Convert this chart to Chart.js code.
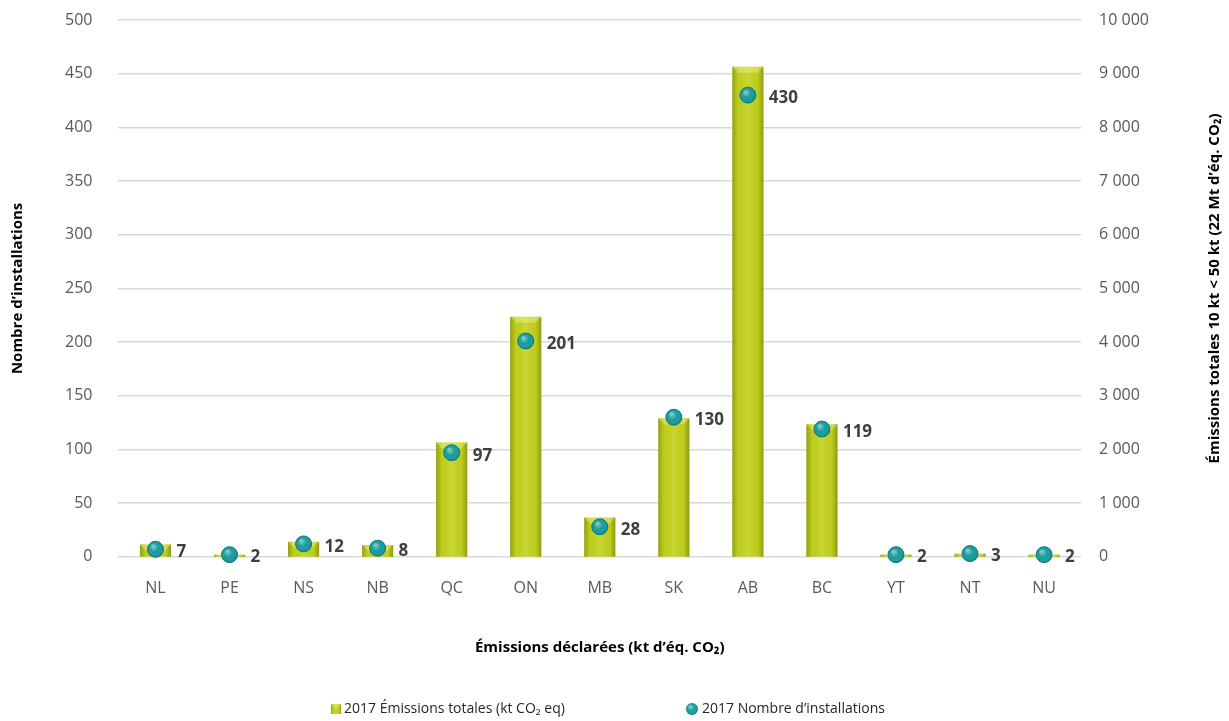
<!DOCTYPE html>
<html>
<head>
<meta charset="utf-8">
<script src="https://cdn.jsdelivr.net/npm/chart.js@4/dist/chart.umd.min.js"></script>
<style>
  html, body { margin: 0; padding: 0; background: #fff; }
  #wrap { width: 1229px; height: 721px; }
</style>
</head>
<body>
<div id="wrap"><canvas id="chart" width="1229" height="721"></canvas></div>
<script>
const provinces = ['NL', 'PE', 'NS', 'NB', 'QC', 'ON', 'MB', 'SK', 'AB', 'BC', 'YT', 'NT', 'NU'];
// kt CO2 eq, right axis
const emissions = [230, 40, 280, 220, 2130, 4470, 730, 2580, 9130, 2470, 40, 60, 40];
// number of facilities, left axis
const installations = [7, 2, 12, 8, 97, 201, 28, 130, 430, 119, 2, 3, 2];
const leftTicks = [0, 50, 100, 150, 200, 250, 300, 350, 400, 450, 500];
const rightTicks = [0, 1000, 2000, 3000, 4000, 5000, 6000, 7000, 8000, 9000, 10000];

const FONT = '"Open Sans", "Liberation Sans", sans-serif';
const barColor = '#c3d21f';
const dotColor = '#149a9c';

function shadeBar(ctx, x0, y, w, h) {
  const g = ctx.createLinearGradient(x0, 0, x0 + w, 0);
  g.addColorStop(0, 'rgba(90,100,0,0.45)');
  g.addColorStop(0.18, 'rgba(90,100,0,0.05)');
  g.addColorStop(0.5, 'rgba(255,255,200,0.12)');
  g.addColorStop(0.82, 'rgba(90,100,0,0.05)');
  g.addColorStop(1, 'rgba(90,100,0,0.5)');
  ctx.fillStyle = g;
  ctx.fillRect(x0, y, w, h);
  const t = Math.min(6, h / 2);
  ctx.fillStyle = 'rgba(255,255,180,0.35)';
  ctx.beginPath();
  ctx.moveTo(x0, y);
  ctx.lineTo(x0 + w, y);
  ctx.lineTo(x0 + w - t, y + t);
  ctx.lineTo(x0 + t, y + t);
  ctx.closePath();
  ctx.fill();
}

function shadeDot(ctx, x, y, r) {
  const g = ctx.createRadialGradient(x - r * 0.3, y - r * 0.4, 1, x, y, r);
  g.addColorStop(0, 'rgba(255,255,255,0.45)');
  g.addColorStop(0.5, 'rgba(255,255,255,0)');
  g.addColorStop(1, 'rgba(0,60,60,0.25)');
  ctx.fillStyle = g;
  ctx.beginPath();
  ctx.arc(x, y, r, 0, Math.PI * 2);
  ctx.fill();
}

// keep the tick padding from pushing the plot down
const trimPadding = axis => {
  axis.paddingTop = 20;
  axis.paddingBottom = 10;
};

// shading on bars and dots, value labels, right title and legend
const decorate = {
  id: 'decorate',
  afterDatasetDraw(chart, args) {
    const ctx = chart.ctx;
    ctx.save();
    if (args.index === 0) {
      args.meta.data.forEach(bar => {
        const h = bar.base - bar.y;
        if (h > 0) shadeBar(ctx, bar.x - bar.width / 2, bar.y, bar.width, h);
      });
    }
    if (args.index === 1) {
      ctx.font = 'bold 17px ' + FONT;
      ctx.textBaseline = 'middle';
      ctx.textAlign = 'left';
      args.meta.data.forEach((pt, i) => {
        shadeDot(ctx, pt.x, pt.y, 8);
        ctx.fillStyle = '#3f3f3f';
        ctx.fillText(String(installations[i]), pt.x + 21, pt.y + 3);
      });
    }
    ctx.restore();
  },
  afterDraw(chart) {
    const ctx = chart.ctx;
    const area = chart.chartArea;
    ctx.save();
    ctx.font = 'bold 15px ' + FONT;
    ctx.fillStyle = '#000';
    ctx.textAlign = 'center';
    ctx.textBaseline = 'middle';
    ctx.translate(1215, (area.top + area.bottom) / 2);
    ctx.rotate(-Math.PI / 2);
    ctx.fillText('Émissions totales 10 kt < 50 kt (22 Mt d\u2019éq. CO\u2082)', 0, 0);
    ctx.restore();

    // legend
    const ds = chart.data.datasets;
    ctx.save();
    ctx.font = '14px ' + FONT;
    ctx.textBaseline = 'middle';
    ctx.textAlign = 'left';
    const ly = 709;
    ctx.fillStyle = ds[0].backgroundColor;
    ctx.fillRect(331, ly - 5, 10, 10);
    shadeBar(ctx, 331, ly - 5, 10, 10);
    ctx.fillStyle = '#262626';
    ctx.fillText(ds[0].label, 344, ly);
    ctx.fillStyle = ds[1].pointBackgroundColor;
    ctx.beginPath();
    ctx.arc(692, ly, 6, 0, Math.PI * 2);
    ctx.fill();
    shadeDot(ctx, 692, ly, 6);
    ctx.fillStyle = '#262626';
    ctx.fillText(ds[1].label, 702, ly);
    ctx.restore();
  }
};

const ctx = document.getElementById('chart').getContext('2d');
new Chart(ctx, {
  data: {
    labels: provinces,
    datasets: [
      {
        type: 'bar',
        label: '2017 Émissions totales (kt CO\u2082 eq)',
        data: emissions,
        yAxisID: 'yR',
        backgroundColor: barColor,
        borderWidth: 0,
        barPercentage: 0.42,
        categoryPercentage: 1,
        clip: false,
        order: 2
      },
      {
        type: 'line',
        label: '2017 Nombre d\u2019installations',
        data: installations,
        yAxisID: 'yL',
        showLine: false,
        pointStyle: 'circle',
        pointRadius: 8,
        pointBackgroundColor: dotColor,
        pointBorderColor: '#0f8486',
        pointBorderWidth: 1,
        backgroundColor: dotColor,
        borderColor: dotColor,
        clip: false,
        order: 1
      }
    ]
  },
  options: {
    responsive: false,
    animation: false,
    layout: { padding: { top: 0, left: 9, right: 62, bottom: 64 } },
    plugins: {
      tooltip: { enabled: false },
      legend: { display: false }
    },
    scales: {
      x: {
        grid: { display: false },
        border: { display: false },
        ticks: { color: '#595959', padding: 14, font: { family: FONT, size: 16 } },
        title: {
          display: true,
          text: 'Émissions déclarées (kt d\u2019éq. CO\u2082)',
          color: '#000',
          font: { family: FONT, size: 15, weight: 'bold' },
          padding: { top: 27, bottom: 0 }
        }
      },
      yL: {
        position: 'left',
        min: 0,
        max: 500,
        afterBuildTicks: axis => { axis.ticks = leftTicks.map(v => ({ value: v })); },
        afterFit: trimPadding,
        grid: { color: '#d9d9d9', lineWidth: 1.5, drawTicks: false },
        border: { display: false },
        ticks: { color: '#595959', padding: 26, font: { family: FONT, size: 16 } },
        title: {
          display: true,
          text: 'Nombre d\u2019installations',
          color: '#000',
          font: { family: FONT, size: 15, weight: 'bold' },
          padding: { top: 0, bottom: 12 }
        }
      },
      yR: {
        position: 'right',
        min: 0,
        max: 10000,
        afterBuildTicks: axis => { axis.ticks = rightTicks.map(v => ({ value: v })); },
        afterFit: trimPadding,
        grid: { display: false, drawTicks: false },
        border: { display: false },
        ticks: {
          color: '#595959',
          padding: 18,
          font: { family: FONT, size: 16 },
          callback: v => String(v).replace(/\B(?=(\d{3})+(?!\d))/g, ' ')
        }
      }
    }
  },
  plugins: [decorate]
});
</script>
</body>
</html>
